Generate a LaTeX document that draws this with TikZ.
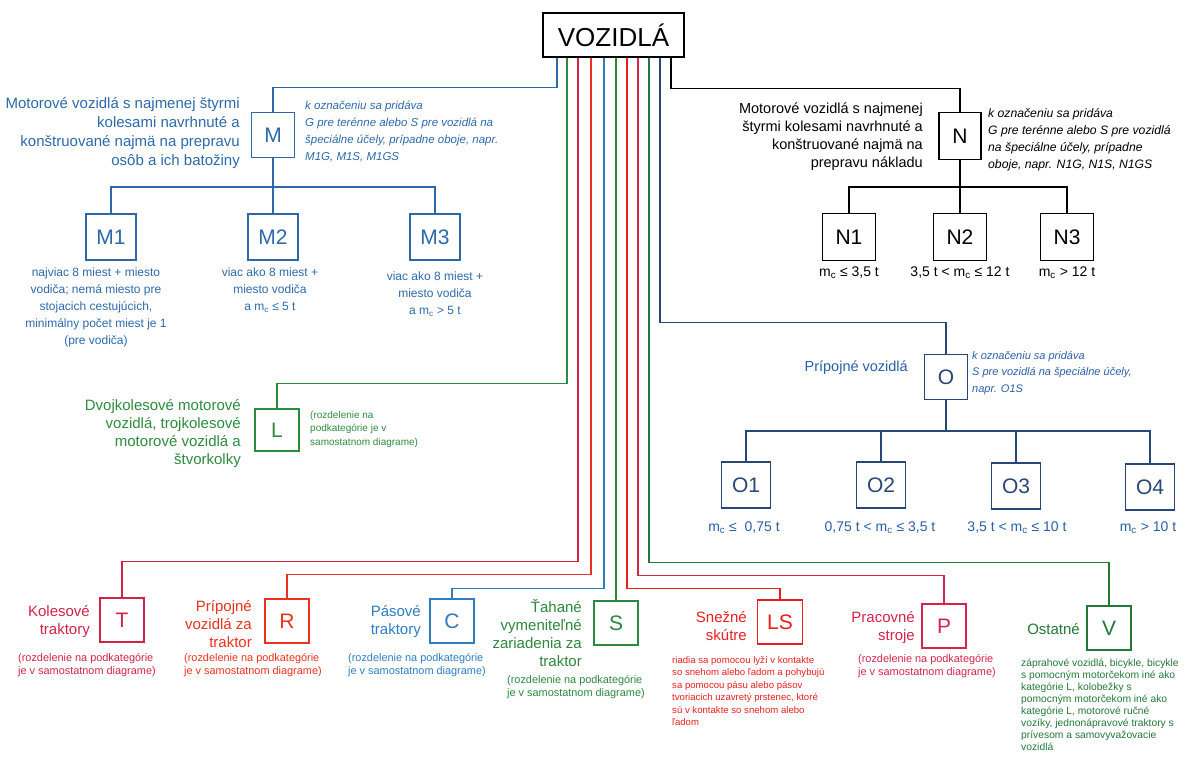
\documentclass[tikz,border=0pt]{standalone}
\usepackage{fontspec}
\setmainfont{Liberation Sans}
\usetikzlibrary{calc}
\definecolor{mblue}{RGB}{45,105,170}
\definecolor{lgreen}{RGB}{45,140,60}
\definecolor{oline}{RGB}{40,70,120}
\definecolor{otext}{RGB}{40,95,165}
\definecolor{tred}{RGB}{210,35,70}
\definecolor{rred}{RGB}{235,50,30}
\definecolor{cblue}{RGB}{45,125,195}
\definecolor{sgreen}{RGB}{45,135,60}
\definecolor{lsred}{RGB}{235,30,30}
\definecolor{pred}{RGB}{215,35,75}
\definecolor{vgreen}{RGB}{35,120,55}
\newcommand{\mcx}{m\textsubscript{c}}
\begin{document}
\begin{tikzpicture}[x=1pt,y=-1pt,
  catbox/.style={draw, line width=1.3pt, inner sep=0pt, minimum width=44pt, minimum height=44pt, font=\fontsize{21}{21}\selectfont},
  subbox/.style={catbox, minimum width=50pt, minimum height=46pt},
  desc/.style={inner sep=0pt, font=\fontsize{15}{19}\selectfont, align=right, anchor=east},
  descb/.style={inner sep=0pt, font=\fontsize{15}{18}\selectfont, align=right, anchor=east},
  inote/.style={inner sep=0pt, font=\fontsize{11.5}{17}\selectfont\itshape, align=left, anchor=west},
  cnote/.style={inner sep=0pt, font=\fontsize{12}{17}\selectfont, align=center},
  snote/.style={inner sep=0pt, font=\fontsize{10.9}{13.5}\selectfont, align=left, anchor=west},
  mass/.style={inner sep=0pt, font=\fontsize{14}{14}\selectfont},
  conn/.style={line width=1.1pt}]
\useasboundingbox (0,0) rectangle (1189,757);

% ---------- nodes ----------
\node[catbox, minimum width=141pt, minimum height=44pt, font=\fontsize{26}{26}\selectfont] (voz) at (613.5,35) {VOZIDLÁ};

% M
\node[catbox, draw=mblue, text=mblue, minimum width=43pt, minimum height=45pt] (M) at (273,135) {M};
\node[subbox, draw=mblue, text=mblue] (M1) at (111,237) {M1};
\node[subbox, draw=mblue, text=mblue] (M2) at (273,237) {M2};
\node[subbox, draw=mblue, text=mblue] (M3) at (435,237) {M3};
\node[desc, text=mblue] (Md) at (240,133) {Motorové vozidlá s najmenej štyrmi\\kolesami navrhnuté a\\konštruované najmä na prepravu\\osôb a ich batožiny};
\node[inote, text=mblue] (Mn) at (305,132) {k označeniu sa pridáva\\G pre terénne alebo S pre vozidlá na\\špeciálne účely, prípadne oboje, napr.\\M1G, M1S, M1GS};
\node[cnote, text=mblue] (M1n) at (96,307) {najviac 8 miest + miesto\\vodiča; nemá miesto pre\\stojacich cestujúcich,\\minimálny počet miest je 1\\(pre vodiča)};
\node[cnote, text=mblue] (M2n) at (270,290) {viac ako 8 miest +\\miesto vodiča\\a \mcx{} ≤ 5 t};
\node[cnote, text=mblue] (M3n) at (435,294) {viac ako 8 miest +\\miesto vodiča\\a \mcx{} > 5 t};

% N
\node[catbox, minimum width=42pt, minimum height=47pt] (N) at (960,136) {N};
\node[subbox, minimum width=53pt, minimum height=47pt] (N1) at (849,237) {N1};
\node[subbox, minimum width=53pt, minimum height=47pt] (N2) at (960,237) {N2};
\node[subbox, minimum width=53pt, minimum height=47pt] (N3) at (1067,237) {N3};
\node[desc, font=\fontsize{14.5}{18}\selectfont] (Nd) at (923,137) {Motorové vozidlá s najmenej\\štyrmi kolesami navrhnuté a\\konštruované najmä na\\prepravu nákladu};
\node[inote, font=\fontsize{12.2}{17}\selectfont\itshape] (Nn) at (988,140) {k označeniu sa pridáva\\G pre terénne alebo S pre vozidlá\\na špeciálne účely, prípadne\\oboje, napr. N1G, N1S, N1GS};
\node[mass] (N1m) at (849,273) {\mcx{} ≤ 3,5 t};
\node[mass] (N2m) at (960,273) {3,5 t < \mcx{} ≤ 12 t};
\node[mass] (N3m) at (1067,273) {\mcx{} > 12 t};

% L
\node[catbox, draw=lgreen, text=lgreen, minimum height=42pt] (L) at (277,430) {L};
\node[descb, text=lgreen] (Ld) at (241,434) {Dvojkolesové motorové\\vozidlá, trojkolesové\\motorové vozidlá a\\štvorkolky};
\node[snote, text=lgreen, font=\fontsize{10}{13.5}\selectfont] (Ln) at (310,429) {(rozdelenie na\\podkategórie je v\\samostatnom diagrame)};

% O
\node[catbox, draw=oline, text=oline, minimum width=43pt, minimum height=45pt] (O) at (946,377) {O};
\node[subbox, draw=oline, text=oline, minimum width=49pt] (O1) at (746,485) {O1};
\node[subbox, draw=oline, text=oline, minimum width=49pt] (O2) at (881,485) {O2};
\node[subbox, draw=oline, text=oline, minimum width=49pt] (O3) at (1016,486) {O3};
\node[subbox, draw=oline, text=oline, minimum width=49pt] (O4) at (1150,487) {O4};
\node[desc, text=otext, font=\fontsize{14.5}{18}\selectfont] (Od) at (908,368) {Prípojné vozidlá};
\node[inote, text=otext, font=\fontsize{11}{16.5}\selectfont\itshape] (On) at (972,373) {k označeniu sa pridáva\\S pre vozidlá na špeciálne účely,\\napr. O1S};
\node[mass, text=otext] (O1m) at (744,528) {\mcx{} ≤\ \ 0,75 t};
\node[mass, text=otext] (O2m) at (880,528) {0,75 t < \mcx{} ≤ 3,5 t};
\node[mass, text=otext] (O3m) at (1017,528) {3,5 t < \mcx{} ≤ 10 t};
\node[mass, text=otext] (O4m) at (1148,528) {\mcx{} > 10 t};

% bottom row
\node[catbox, draw=tred, text=tred] (T) at (122,620) {T};
\node[catbox, draw=rred, text=rred] (R) at (287,621) {R};
\node[catbox, draw=cblue, text=cblue] (C) at (452,621) {C};
\node[catbox, draw=sgreen, text=sgreen] (S) at (616,623) {S};
\node[catbox, draw=lsred, text=lsred, minimum width=45pt] (LS) at (780,622) {LS};
\node[catbox, draw=pred, text=pred] (P) at (944,626) {P};
\node[catbox, draw=vgreen, text=vgreen] (V) at (1109,628) {V};

\node[descb, text=tred] (Td) at (90,622) {Kolesové\\traktory};
\node[descb, text=rred] (Rd) at (252,624) {Prípojné\\vozidlá za\\traktor};
\node[descb, text=cblue] (Cd) at (421,622) {Pásové\\traktory};
\node[descb, text=sgreen] (Sd) at (582,633) {Ťahané\\vymeniteľné\\zariadenia za\\traktor};
\node[descb, text=lsred] (LSd) at (747,626) {Snežné\\skútre};
\node[descb, text=pred] (Pd) at (915,628) {Pracovné\\stroje};
\node[descb, text=vgreen] (Vd) at (1080,629) {Ostatné};

\node[snote, text=tred] (Tn) at (18,665) {(rozdelenie na podkategórie\\je v samostatnom diagrame)};
\node[snote, text=rred] (Rn) at (184,665) {(rozdelenie na podkategórie\\je v samostatnom diagrame)};
\node[snote, text=cblue] (Cn) at (348,665) {(rozdelenie na podkategórie\\je v samostatnom diagrame)};
\node[snote, text=sgreen] (Sn) at (507,687) {(rozdelenie na podkategórie\\je v samostatnom diagrame)};
\node[snote, text=lsred, font=\fontsize{9.6}{12.5}\selectfont] (LSn) at (672,691) {riadia sa pomocou lyží v kontakte\\so snehom alebo ľadom a pohybujú\\sa pomocou pásu alebo pásov\\tvoriacich uzavretý prstenec, ktoré\\sú v kontakte so snehom alebo\\ľadom};
\node[snote, text=pred] (Pn) at (858,666) {(rozdelenie na podkategórie\\je v samostatnom diagrame)};
\node[snote, text=vgreen, font=\fontsize{10.3}{12}\selectfont] (Vn) at (1021,705) {záprahové vozidlá, bicykle, bicykle\\s pomocným motorčekom iné ako\\kategórie L, kolobežky s\\pomocným motorčekom iné ako\\kategórie L, motorové ručné\\vozíky, jednonápravové traktory s\\prívesom a samovyvažovacie\\vozidlá};

% ---------- connectors from VOZIDLÁ ----------
\draw[conn, mblue] ([xshift=-56.5pt]voz.south) -- ++(0,30) -| (M.north);
\draw[conn, lgreen] ([xshift=-46.5pt]voz.south) -- ++(0,326) -| (L.north);
\draw[conn, tred] ([xshift=-35.5pt]voz.south) -- ++(0,504) -| (T.north);
\draw[conn, rred] ([xshift=-22.5pt]voz.south) -- ++(0,517) -| (R.north);
\draw[conn, cblue] ([xshift=-9.5pt]voz.south) -- ++(0,531) -| (C.north);
\draw[conn, sgreen] ([xshift=2.5pt]voz.south) -- (S.north);
\draw[conn, lsred] ([xshift=13.5pt]voz.south) -- ++(0,531) -| (LS.north);
\draw[conn, pred] ([xshift=24.5pt]voz.south) -- ++(0,518) -| (P.north);
\draw[conn, vgreen] ([xshift=35.5pt]voz.south) -- ++(0,505) -| (V.north);
\draw[conn, oline] ([xshift=46.5pt]voz.south) -- ++(0,265) -| (O.north);
\draw[conn, black] ([xshift=57.5pt]voz.south) -- ++(0,31) -| (N.north);

% ---------- sub branches ----------
\coordinate (mb) at (273,187);
\draw[conn, mblue] (M.south) -- (M2.north);
\draw[conn, mblue] (M1.north) |- (mb) -| (M3.north);

\coordinate (nb) at (960,187);
\draw[conn] (N.south) -- (N2.north);
\draw[conn] (N1.north) |- (nb) -| (N3.north);

\coordinate (ob) at (946,431);
\draw[conn, oline] (O.south) -- (ob);
\draw[conn, oline] (O1.north) |- (ob) -| (O4.north);
\draw[conn, oline] (O2.north) -- (O2.north |- ob);
\draw[conn, oline] (O3.north) -- (O3.north |- ob);
\end{tikzpicture}
\end{document}
